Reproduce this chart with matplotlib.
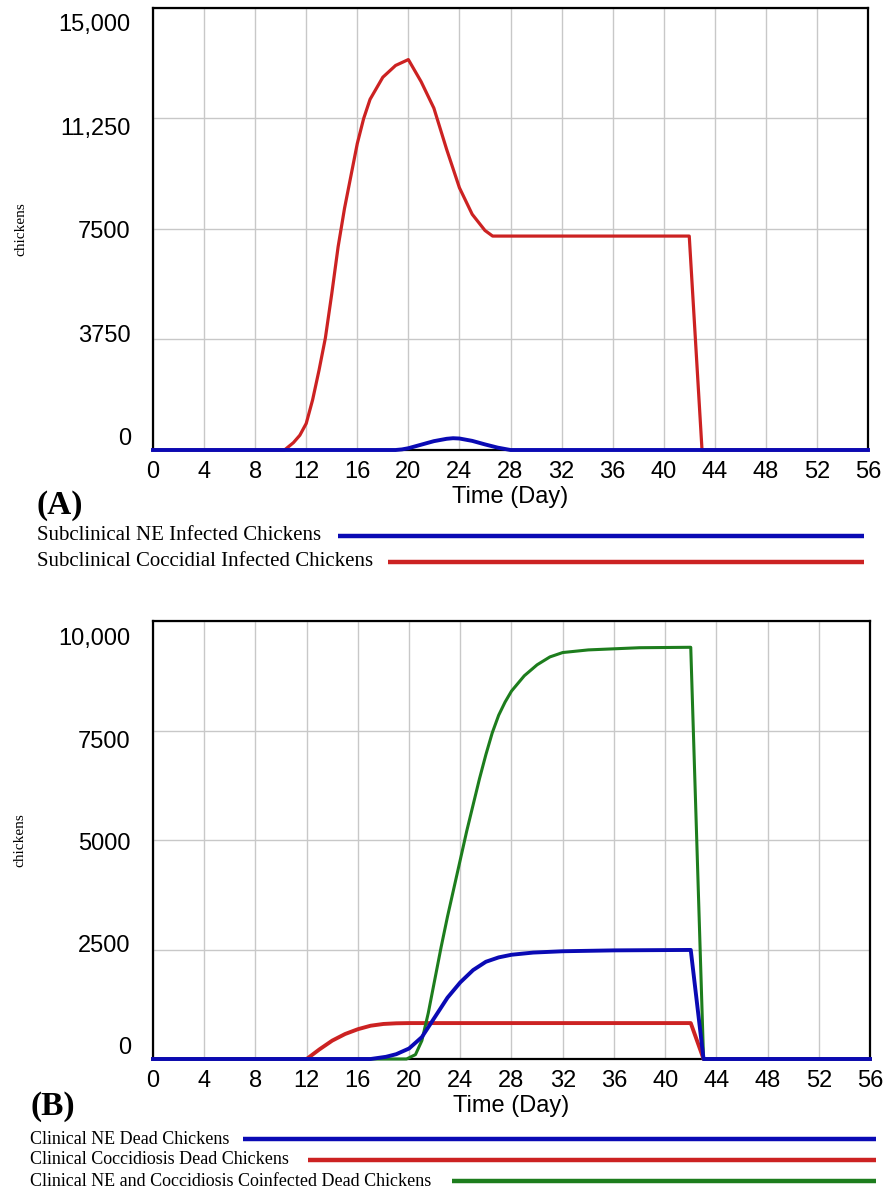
import numpy as np
import matplotlib.pyplot as plt
from matplotlib.lines import Line2D
from matplotlib.transforms import ScaledTranslation

# ---- data ----
day_ticks = list(range(0, 57, 4))

# panel A
a_yticks = [0, 3750, 7500, 11250, 15000]
a_ylabels = ["0", "3750", "7500", "11,250", "15,000"]
a_ne_days = [0, 19, 19.5, 20, 21, 22, 23, 23.5, 24, 25, 26, 27, 28, 56]
a_ne_vals = [0, 0, 20, 60, 180, 300, 380, 400, 390, 310, 190, 80, 0, 0]
a_cocc_days = [0, 10.3, 11, 11.5, 12, 12.5, 13, 13.5, 14, 14.5, 15, 15.5, 16, 16.5, 17,
               18, 19, 20, 21, 22, 23, 24, 25, 26, 26.6, 42, 43, 56]
a_cocc_vals = [0, 0, 250, 500, 900, 1700, 2700, 3800, 5300, 6900, 8200, 9300, 10400,
               11250, 11900, 12650, 13050, 13250, 12500, 11600, 10200, 8900, 8000, 7450,
               7260, 7260, 0, 0]

# panel B
b_yticks = [0, 2500, 5000, 7500, 10000]
b_ylabels = ["0", "2500", "5000", "7500", "10,000"]
b_ne_days = [0, 17, 18.2, 19, 20, 21, 22, 23, 24, 25, 26, 27, 28, 29.7, 32, 36, 42, 43, 56]
b_ne_vals = [0, 0, 50, 110, 240, 500, 950, 1400, 1750, 2030, 2220, 2320, 2380, 2430,
             2460, 2480, 2490, 0, 0]
b_cocc_days = [0, 12, 13, 14, 15, 16, 17, 18, 19, 20, 42, 43, 56]
b_cocc_vals = [0, 0, 220, 420, 570, 680, 760, 800, 815, 820, 820, 0, 0]
b_co_days = [0, 19.8, 20.5, 21, 21.5, 22, 22.5, 23, 23.5, 24, 24.5, 25, 25.5, 26, 26.5,
             27, 27.5, 28, 29, 30, 31, 32, 34, 38, 42, 43, 56]
b_co_vals = [0, 0, 100, 420, 1050, 1800, 2550, 3250, 3900, 4550, 5200, 5800, 6400,
             6950, 7450, 7850, 8150, 8400, 8750, 9000, 9180, 9280, 9340, 9390, 9400, 0, 0]

a_names = ["Subclinical NE Infected Chickens", "Subclinical Coccidial Infected Chickens"]
b_names = ["Clinical NE Dead Chickens", "Clinical Coccidiosis Dead Chickens",
           "Clinical NE and Coccidiosis Coinfected Dead Chickens"]

BLUE = "#0a0ab4"
RED = "#cc2222"
GREEN = "#1d7d1d"

W, H = 884, 1192
fig = plt.figure(figsize=(W / 100, H / 100), dpi=100)


def px_axes(l, t, r, b):
    return fig.add_axes([l / W, 1 - b / H, (r - l) / W, (b - t) / H])


def style(ax, yticks, ylabels, dy_bottom, dy_top):
    ax.set_xlim(0, 56)
    ax.set_ylim(yticks[0], yticks[-1])
    ax.set_xticks(day_ticks)
    ax.set_yticks(yticks, ylabels)
    ax.grid(color="#c8c8c8", lw=1)
    ax.set_axisbelow(True)
    ax.tick_params(length=0, labelsize=17)
    ax.tick_params(axis="x", pad=8)
    ax.tick_params(axis="y", pad=16)
    for lab in ax.get_xticklabels() + ax.get_yticklabels():
        lab.set_fontfamily("Liberation Sans")
    for sp in ax.spines.values():
        sp.set_linewidth(1.6)
    n = len(yticks)
    for i, lab in enumerate(ax.get_yticklabels()):
        dy = dy_bottom + (dy_top - dy_bottom) * i / (n - 1)
        lab.set_transform(lab.get_transform() + ScaledTranslation(0, dy / 100, fig.dpi_scale_trans))
    ax.set_xlabel("Time (Day)", fontsize=17, family="Liberation Sans", labelpad=2)
    ax.set_ylabel("chickens", fontsize=11, family="Liberation Serif")
    ax.yaxis.set_label_coords(-0.176, 0.5)


def legend_row(text, y, x_text, x0, x1, color, size):
    fig.text(x_text / W, 1 - y / H, text, fontsize=size, family="Liberation Serif",
             va="center", ha="left")
    fig.add_artist(Line2D([x0 / W, x1 / W], [1 - y / H, 1 - y / H], transform=fig.transFigure,
                          color=color, lw=3.2, solid_capstyle="butt"))


# ---- panel A ----
axA = px_axes(153, 8, 868, 450)
axA.plot(a_cocc_days, a_cocc_vals, color=RED, lw=2.3, zorder=3, clip_on=False)
axA.plot(a_ne_days, a_ne_vals, color=BLUE, lw=2.8, zorder=4, clip_on=False)
style(axA, a_yticks, a_ylabels, 13, -15)
fig.text(37 / W, 1 - 505 / H, "(A)", fontsize=24, fontweight="bold",
         family="Liberation Serif", va="center", ha="left")
legend_row(a_names[0], 536, 37, 338, 864, BLUE, 15)
legend_row(a_names[1], 562, 37, 388, 864, RED, 15)

# ---- panel B ----
axB = px_axes(153, 621, 870, 1059)
axB.plot(b_cocc_days, b_cocc_vals, color=RED, lw=2.8, zorder=3, clip_on=False)
axB.plot(b_co_days, b_co_vals, color=GREEN, lw=2.2, zorder=4, clip_on=False)
axB.plot(b_ne_days, b_ne_vals, color=BLUE, lw=2.8, zorder=5, clip_on=False)
style(axB, b_yticks, b_ylabels, 14, -16)
fig.text(31 / W, 1 - 1107 / H, "(B)", fontsize=24, fontweight="bold",
         family="Liberation Serif", va="center", ha="left")
legend_row(b_names[0], 1139, 30, 243, 876, BLUE, 13)
legend_row(b_names[1], 1160, 30, 308, 876, RED, 13)
legend_row(b_names[2], 1181, 30, 452, 876, GREEN, 13)

fig.savefig("out.png", dpi=100)
